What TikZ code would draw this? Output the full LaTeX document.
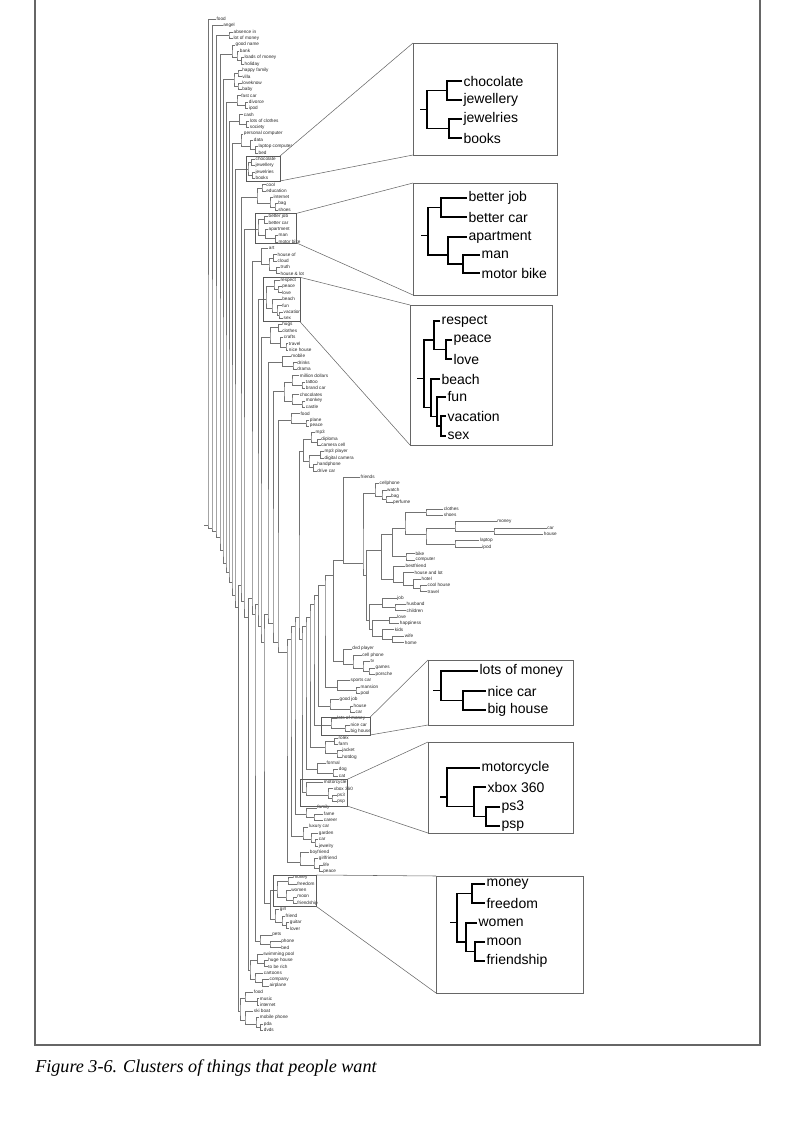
\documentclass[tikz,border=0pt]{standalone}
\usepackage{fontspec}
\newfontfamily\sansfam{Liberation Sans}
\newfontfamily\capfam{Liberation Serif}
\newcommand\tinyfnt{\sansfam\fontsize{3.5}{4}\selectfont}
\newcommand\insetfnt{\sansfam\fontsize{10.5}{12}\selectfont}
\newcommand\capfnt{\capfam\itshape\fontsize{13.6}{15}\selectfont}
\newcommand\Lf[4]{%
  \node[lbl] (L#1) at (#2,#3) {#4};%
  \coordinate (#1) at (#2,#3);%
  \expandafter\xdef\csname dT#1\endcsname{#3}%
  \expandafter\xdef\csname dB#1\endcsname{#3}%
}
\newcommand\Li[4]{%
  \pgfmathsetmacro\xxY{19.3+6.358*#3}%
  \Lf{#1}{#2}{\xxY}{#4}%
}
\newcommand\Cl[4]{%
  \edef\xxA{\csname dT#3\endcsname}%
  \edef\xxB{\csname dB#4\endcsname}%
  \pgfmathsetmacro\xxM{(\xxA+\xxB)/2}%
  \expandafter\xdef\csname dT#1\endcsname{\xxA}%
  \expandafter\xdef\csname dB#1\endcsname{\xxB}%
  \coordinate (#1) at (#2,\xxM);%
  \draw[dl] (#3) -| (#1) |- (#4);%
}
\tikzset{
  lbl/.style={anchor=west, inner sep=0.3pt, font=\tinyfnt, text=black!85},
  dl/.style={draw=black!55, line width=0.3pt},
  ibl/.style={anchor=west, inner sep=1pt, font=\insetfnt, text=black},
  idl/.style={draw=black, line width=0.9pt},
  hbox/.style={draw=black!65, line width=0.35pt},
  zline/.style={draw=black!60, line width=0.4pt},
  ibox/.style={draw=black!60, line width=0.6pt},
  frame/.style={draw=black!60, line width=0.8pt},
}
\begin{document}
\begin{tikzpicture}[x=0.75pt, y=-0.75pt]
\useasboundingbox (0,0) rectangle (794,1123);
% frame and caption
\draw[frame] (35,-2) -- (35,1045) -- (760,1045) -- (760,-2);
\node[anchor=base west, inner sep=0pt, font=\capfnt] (cap) at (35,1072) {Figure 3-6. Clusters of things that people want};

% ---------- leaves ----------
\Li{t0}{216}{0}{food}
\Li{t1}{222.7}{1}{angel}
\Li{t2}{233}{2}{absence in}
\Li{t3}{233}{3}{lot of money}
\Li{t4}{235}{4}{good name}
\Li{t5}{239.3}{5}{bank}
\Li{t6}{244}{6}{loads of money}
\Li{t7}{244}{7}{holiday}
\Li{t8}{241.7}{8}{happy family}
\Li{t9}{241.7}{9}{villa}
\Li{t10}{241.7}{10}{loveknow}
\Li{t11}{241.7}{11}{baby}
\Li{t12}{240.7}{12}{fast car}
\Li{t13}{248.3}{13}{divorce}
\Li{t14}{248.3}{14}{ipod}
\Li{t15}{243.3}{15}{cash}
\Li{t16}{249.3}{16}{lots of clothes}
\Li{t17}{249.3}{17}{society}
\Li{t18}{243.3}{18}{personal computer}
\Li{t19}{253.3}{19}{data}
\Li{t20}{258}{20}{laptop computer}
\Li{t21}{258}{21}{bed}
\Li{t22}{255}{22}{chocolate}
\Li{t23}{255}{23}{jewellery}
\Li{t24}{255}{24}{jewelries}
\Li{t25}{255}{25}{books}
\Li{t26}{265.7}{26}{cool}
\Li{t27}{265.7}{27}{education}
\Li{t28}{273}{28}{internet}
\Li{t29}{277.7}{29}{bag}
\Li{t30}{277.7}{30}{shoes}
\Li{t31}{268}{31}{better job}
\Li{t32}{268}{32}{better car}
\Li{t33}{268}{33}{apartment}
\Li{t34}{278}{34}{man}
\Li{t35}{278}{35}{motor bike}
\Li{t36}{268.3}{36}{art}
\Li{t37}{277}{37}{house of}
\Li{t38}{277}{38}{cloud}
\Li{t39}{280}{39}{truth}
\Li{t40}{280}{40}{house \& lot}
\Li{t41}{280}{41}{respect}
\Li{t42}{281.7}{42}{peace}
\Li{t43}{281.7}{43}{love}
\Li{t44}{281.7}{44}{beach}
\Li{t45}{281.7}{45}{fun}
\Li{t46}{283}{46}{vacation}
\Li{t47}{283}{47}{sex}
\Li{t48}{281.7}{48}{hugs}
\Li{t49}{281.7}{49}{clothes}
\Li{t50}{283.3}{50}{crafts}
\Li{t51}{288.3}{51}{travel}
\Li{t52}{288.3}{52}{nice house}
\Li{t53}{290.7}{53}{mobile}
\Li{t54}{296.7}{54}{drinks}
\Li{t55}{296.7}{55}{drama}
\Li{t56}{299.3}{56}{million dollars}
\Li{t57}{305.3}{57}{tattoo}
\Li{t58}{305.3}{58}{brand car}
\Li{t59}{299.3}{59}{chocolates}
\Li{t60}{305.3}{60}{monkey}
\Li{t61}{305.3}{61}{castle}
\Li{t62}{300}{62}{food}
\Li{t63}{309.3}{63}{plane}
\Li{t64}{309.3}{64}{peace}
\Li{t65}{315}{65}{mp3}
\Li{t66}{320.7}{66}{diploma}
\Li{t67}{320.7}{67}{camera cell}
\Li{t68}{324}{68}{mp3 player}
\Li{t69}{324}{69}{digital camera}
\Li{t70}{316.7}{70}{handphone}
\Li{t71}{316.7}{71}{drive car}
\Li{t72}{360}{72}{friends}
\Li{t73}{379}{73}{cellphone}
\Li{t74}{386.5}{74}{watch}
\Li{t75}{390.5}{75}{bag}
\Li{t76}{392.5}{76}{perfume}
\Li{t77}{443.3}{77}{clothes}
\Li{t78}{443.3}{78}{shoes}
\Li{t79}{496.7}{79}{money}
\Li{t80}{546.7}{80}{car}
\Li{t81}{543.3}{81}{house}
\Li{t82}{479.3}{82}{laptop}
\Li{t83}{481.7}{83}{ipod}
\Li{t84}{415}{84}{bike}
\Li{t85}{415}{85}{computer}
\Li{t86}{405}{86}{bestfriend}
\Li{t87}{414}{87}{house and lot}
\Li{t88}{421}{88}{hotel}
\Li{t89}{427}{89}{cool house}
\Li{t90}{427}{90}{travel}
\Li{t91}{396.7}{91}{job}
\Li{t92}{406}{92}{husband}
\Li{t93}{406}{93}{children}
\Li{t94}{396.7}{94}{love}
\Li{t95}{399.3}{95}{happiness}
\Li{t96}{394.3}{96}{kids}
\Li{t97}{404.3}{97}{wife}
\Li{t98}{404.3}{98}{home}
\Li{t99}{351.7}{99}{dvd player}
\Li{t100}{361.7}{100}{cell phone}
\Li{t101}{370}{101}{tv}
\Li{t102}{375}{102}{games}
\Li{t103}{375}{103}{porsche}
\Li{t104}{350}{104}{sports car}
\Li{t105}{360}{105}{mansion}
\Li{t106}{360}{106}{pool}
\Li{t107}{339}{107}{good job}
\Li{t108}{353}{108}{house}
\Li{t109}{355}{109}{car}
\Li{t110}{336.7}{110}{lots of money}
\Li{t111}{350}{111}{nice car}
\Li{t112}{350}{112}{big house}
\Li{t113}{338}{113}{rolex}
\Li{t114}{338}{114}{farm}
\Li{t115}{341.7}{115}{jacket}
\Li{t116}{341.7}{116}{hotdog}
\Li{t117}{326}{117}{formal}
\Li{t118}{338.3}{118}{dog}
\Li{t119}{338.3}{119}{cat}
\Li{t120}{323.3}{120}{motorcycle}
\Li{t121}{333.3}{121}{xbox 360}
\Li{t122}{336.7}{122}{ps3}
\Li{t123}{336.7}{123}{psp}
\Li{t124}{316.7}{124}{family}
\Li{t125}{323.3}{125}{fame}
\Li{t126}{323.3}{126}{career}
\Li{t127}{308.3}{127}{luxury car}
\Li{t128}{318.3}{128}{garden}
\Li{t129}{318.3}{129}{car}
\Li{t130}{318.3}{130}{jewelry}
\Li{t131}{309.3}{131}{boyfriend}
\Li{t132}{318.3}{132}{girlfriend}
\Li{t133}{322.7}{133}{life}
\Li{t134}{322.7}{134}{peace}
\Li{t135}{292.7}{135}{money}
\Li{t136}{296.7}{136}{freedom}
\Li{t137}{290.7}{137}{women}
\Li{t138}{296.7}{138}{moon}
\Li{t139}{296.7}{139}{friendship}
\Li{t140}{279.3}{140}{girl}
\Li{t141}{285}{141}{friend}
\Li{t142}{289.3}{142}{guitar}
\Li{t143}{289.3}{143}{lover}
\Li{t144}{271.7}{144}{pets}
\Li{t145}{280.7}{145}{phone}
\Li{t146}{280.7}{146}{bed}
\Li{t147}{262.7}{147}{swimming pool}
\Li{t148}{267.7}{148}{huge house}
\Li{t149}{267.7}{149}{to be rich}
\Li{t150}{263.3}{150}{cartoons}
\Li{t151}{269}{151}{company}
\Li{t152}{269}{152}{airplane}
\Li{t153}{253.3}{153}{food}
\Li{t154}{259.3}{154}{music}
\Li{t155}{259.3}{155}{internet}
\Li{t156}{253.3}{156}{ski boat}
\Li{t157}{259.3}{157}{mobile phone}
\Li{t158}{263.3}{158}{pda}
\Li{t159}{263.3}{159}{dvds}

% ---------- top groups ----------
\Cl{g3}{229}{t2}{t3}
\Cl{g4a}{241.5}{t6}{t7}\Cl{g4b}{237}{t5}{g4a}\Cl{g4}{232}{t4}{g4b}
\Cl{g5a}{238}{t8}{t9}\Cl{g5b}{238}{t10}{t11}\Cl{g5}{234}{g5a}{g5b}
\Cl{g6a}{245.5}{t13}{t14}\Cl{g6}{237}{t12}{g6a}
\Cl{g7a}{246.5}{t16}{t17}\Cl{g7}{239.5}{t15}{g7a}
\Cl{g8a}{255.5}{t20}{t21}\Cl{g8b}{250.5}{t19}{g8a}\Cl{g8}{241}{t18}{g8b}
\Cl{g9a}{251.5}{t22}{t23}\Cl{g9b}{252.5}{t24}{t25}\Cl{g9}{248}{g9a}{g9b}
\Cl{g10a}{262}{t26}{t27}\Cl{g10b}{275}{t29}{t30}\Cl{g10c}{270}{t28}{g10b}\Cl{g10}{257}{g10a}{g10c}
\Cl{g11a}{264.5}{t31}{t32}\Cl{g11b}{275.5}{t34}{t35}\Cl{g11c}{265.5}{t33}{g11b}\Cl{g11}{258}{g11a}{g11c}
\Cl{g12a}{273.5}{t37}{t38}\Cl{g12b}{276.5}{t39}{t40}\Cl{g12c}{269}{g12a}{g12b}\Cl{g12}{260.7}{t36}{g12c}
\Cl{g13a}{278}{t42}{t43}\Cl{g13b}{274}{t41}{g13a}\Cl{g13c}{279}{t46}{t47}\Cl{g13d}{277}{t45}{g13c}\Cl{g13e}{272}{t44}{g13d}\Cl{g13}{266}{g13b}{g13e}
\Cl{g14a}{278.3}{t48}{t49}\Cl{g14b}{286}{t51}{t52}\Cl{g14c}{280.5}{t50}{g14b}\Cl{g14}{270}{g14a}{g14c}
\Cl{g15a}{293}{t54}{t55}\Cl{g15}{281.7}{t53}{g15a}
\Cl{g16a}{302}{t57}{t58}\Cl{g16b}{292}{t56}{g16a}\Cl{g16c}{302}{t60}{t61}\Cl{g16d}{292}{t59}{g16c}\Cl{g16}{284}{g16b}{g16d}
\Cl{g17a}{306}{t63}{t64}\Cl{g17}{291}{t62}{g17a}
\Cl{g18a}{317.5}{t66}{t67}\Cl{g18b}{311}{t65}{g18a}\Cl{g18c}{320.5}{t68}{t69}\Cl{g18d}{313.5}{t70}{t71}\Cl{g18e}{309}{g18c}{g18d}\Cl{g18}{303.5}{g18b}{g18e}

% ---------- core ----------
\Cl{c1}{386}{t75}{t76}\Cl{c2}{382}{t74}{c1}\Cl{cell}{375}{t73}{c2}
\Cl{ch}{494}{t80}{t81}\Cl{a2}{455}{t79}{ch}\Cl{a3}{455}{t82}{t83}\Cl{a4}{426}{a2}{a3}
\Cl{a1}{426}{t77}{t78}\Cl{a5}{405}{a1}{a4}\Cl{a6}{406}{t84}{t85}\Cl{a7}{391.7}{a5}{a6}
\Cl{b1a}{420}{t89}{t90}\Cl{b1b}{413.3}{t88}{b1a}\Cl{b1c}{403.3}{t87}{b1b}\Cl{b1}{393.3}{t86}{b1c}
\Cl{cc1}{380.7}{a7}{b1}
\Cl{j1}{395}{t92}{t93}\Cl{jj}{381.7}{t91}{j1}
\Cl{k1}{389.3}{t94}{t95}\Cl{k2}{391.7}{t97}{t98}\Cl{k3}{381.7}{t96}{k2}\Cl{kk}{371.7}{k1}{k3}
\Cl{cc2}{369.5}{jj}{kk}
\Cl{big}{366.5}{cc1}{cc2}
\Cl{f1}{363}{cell}{big}
\Cl{ff}{343.3}{t72}{f1}
\Cl{d1}{369}{t102}{t103}\Cl{d2}{363}{t101}{d1}\Cl{d3}{353}{t100}{d2}\Cl{dvd}{343.3}{t99}{d3}
\Cl{gg1}{333.3}{ff}{dvd}
\Cl{s1}{356}{t105}{t106}\Cl{sc}{336.7}{t104}{s1}
\Cl{gg2}{325}{gg1}{sc}

% ---------- bottom groups ----------
\Cl{gj1}{350}{t108}{t109}\Cl{gj}{330}{t107}{gj1}
\Cl{lm1}{345}{t111}{t112}\Cl{lm}{331}{t110}{lm1}
\Cl{rx1}{334.5}{t113}{t114}\Cl{rx2}{337}{t115}{t116}\Cl{rx}{325}{rx1}{rx2}
\Cl{fd1}{333}{t118}{t119}\Cl{fd}{316.7}{t117}{fd1}
\Cl{mc1}{332}{t122}{t123}\Cl{mc2}{328}{t121}{mc1}\Cl{mc}{306}{t120}{mc2}
\Cl{fm1}{314}{t125}{t126}\Cl{fm}{306}{t124}{fm1}
\Cl{lc1}{315}{t129}{t130}\Cl{lc2}{311}{t128}{lc1}\Cl{lc}{303}{t127}{lc2}
\Cl{bf1}{319.5}{t133}{t134}\Cl{bf2}{314}{t132}{bf1}\Cl{bf}{300}{t131}{bf2}
\Cl{mn1}{288}{t135}{t136}\Cl{mn2}{293}{t138}{t139}\Cl{mn3}{286}{t137}{mn2}\Cl{mn}{277}{mn1}{mn3}
\Cl{gl1}{286.5}{t142}{t143}\Cl{gl2}{282}{t141}{gl1}\Cl{gl}{275}{t140}{gl2}
\Cl{mg}{270.5}{mn}{gl}
\Cl{pt1}{270}{t145}{t146}\Cl{pt}{260}{t144}{pt1}
\Cl{sp1}{264.5}{t148}{t149}\Cl{sp}{256.7}{t147}{sp1}
\Cl{ct1}{261.7}{t151}{t152}\Cl{ct}{255}{t150}{ct1}
\Cl{spct}{250}{sp}{ct}
\Cl{fo1}{256.7}{t154}{t155}\Cl{fo}{245}{t153}{fo1}
\Cl{sk1}{260.5}{t158}{t159}\Cl{sk2}{256}{t157}{sk1}\Cl{sk}{245}{t156}{sk2}
\Cl{fb}{240}{fo}{sk}

% ---------- backbone ----------
\Cl{n30}{318.3}{gg2}{gj}
\Cl{n29}{314}{n30}{lm}
\Cl{n28}{310}{n29}{rx}
\Cl{n27}{306}{n28}{fd}
\Cl{n26}{302}{n27}{mc}
\Cl{n25}{299}{g18}{n26}
\Cl{n24}{295}{n25}{fm}
\Cl{n23}{291}{n24}{lc}
\Cl{n22}{287}{n23}{bf}
\Cl{n21}{278}{g17}{n22}
\Cl{n20}{273}{g16}{n21}
\Cl{n19}{268}{g15}{n20}
\Cl{n18}{264}{n19}{mg}
\Cl{n17}{261}{g14}{n18}
\Cl{n16}{258}{g13}{n17}
\Cl{n15}{255}{n16}{pt}
\Cl{n14}{252}{g12}{n15}
\Cl{n13}{247.7}{n14}{spct}
\Cl{n12}{244}{g11}{n13}
\Cl{n11}{241}{g10}{n12}
\Cl{n10}{237.7}{n11}{fb}
\Cl{n9}{235}{g9}{n10}
\Cl{n8}{232}{g8}{n9}
\Cl{n7}{229}{g7}{n8}
\Cl{n6}{226}{g6}{n7}
\Cl{n5}{223}{g5}{n6}
\Cl{n4}{220}{g4}{n5}
\Cl{n3}{216}{g3}{n4}
\Cl{n2}{212}{t1}{n3}
\Cl{n1}{208}{t0}{n2}
\draw[dl] (n1) -- ++(-4,0);

% ---------- highlight boxes ----------
\draw[hbox] (246.5,156) rectangle (280,181);
\draw[hbox] (255,213.3) rectangle (296.7,243);
\draw[hbox] (263.3,277.3) rectangle (300,321.7);
\draw[hbox] (321.7,717.3) rectangle (370,735);
\draw[hbox] (300.7,779.3) rectangle (347.3,806);
\draw[hbox] (273.3,875) rectangle (316.7,906.7);

% ---------- zoom lines ----------
\draw[zline] (280,156) -- (413,43);
\draw[zline] (280,181) -- (413,155);
\draw[zline] (296.7,213.3) -- (413,183);
\draw[zline] (296.7,243) -- (413,295);
\draw[zline] (300,277.3) -- (410,305);
\draw[zline] (300,321.7) -- (410,445);
\draw[zline] (370,717.3) -- (428,660);
\draw[zline] (370,735) -- (428,725);
\draw[zline] (347.3,779.3) -- (428,742);
\draw[zline] (347.3,806) -- (428,833);
\draw[zline] (316.7,875) -- (436,876);
\draw[zline] (316.7,906.7) -- (436,993);

% ---------- insets ----------
\draw[ibox] (413,43) rectangle (557,155);
\draw[ibox] (413,183) rectangle (557,295);
\draw[ibox] (410,305) rectangle (552,445);
\draw[ibox] (428,660) rectangle (573,725);
\draw[ibox] (428,742) rectangle (573,833);
\draw[ibox] (436,876) rectangle (583,993);
\begin{scope}[lbl/.style={ibl}, dl/.style={idl}]
\Lf{ia0}{462}{81}{chocolate}\Lf{ia1}{462}{100}{jewellery}\Lf{ia2}{462}{119}{jewelries}\Lf{ia3}{462}{138}{books}
\Cl{ia4}{447}{ia0}{ia1}\Cl{ia5}{449}{ia2}{ia3}\Cl{ia6}{427}{ia4}{ia5}
\draw[idl] (ia6) -- ++(-7,0);
\Lf{ib0}{467}{198}{better job}\Lf{ib1}{467}{217}{better car}\Lf{ib2}{467}{237}{apartment}\Lf{ib3}{480}{255}{man}\Lf{ib4}{480}{273}{motor bike}
\Cl{ib5}{441}{ib0}{ib1}\Cl{ib6}{463}{ib3}{ib4}\Cl{ib7}{448}{ib2}{ib6}\Cl{ib8}{428}{ib5}{ib7}
\draw[idl] (ib8) -- ++(-7,0);
\Lf{ic0}{440}{321}{respect}\Lf{ic1}{452}{340}{peace}\Lf{ic2}{452}{359}{love}\Lf{ic3}{440}{379}{beach}\Lf{ic4}{446}{397}{fun}\Lf{ic5}{446}{416}{vacation}\Lf{ic6}{446}{436}{sex}
\Cl{ic7}{446}{ic1}{ic2}\Cl{ic8}{434}{ic0}{ic7}\Cl{ic9}{441}{ic5}{ic6}\Cl{ic10}{437}{ic4}{ic9}\Cl{ic11}{431}{ic3}{ic10}\Cl{ic12}{424}{ic8}{ic11}
\draw[idl] (ic12) -- ++(-7,0);
\Lf{id0}{478}{671}{lots of money}\Lf{id1}{486}{691}{nice car}\Lf{id2}{486}{710}{big house}
\Cl{id3}{463}{id1}{id2}\Cl{id4}{441}{id0}{id3}
\draw[idl] (id4) -- ++(-8,0);
\Lf{ie0}{480}{768}{motorcycle}\Lf{ie1}{486}{787}{xbox 360}\Lf{ie2}{500}{807}{ps3}\Lf{ie3}{500}{826}{psp}
\Cl{ie4}{486}{ie2}{ie3}\Cl{ie5}{474}{ie1}{ie4}\Cl{ie6}{447}{ie0}{ie5}
\draw[idl] (ie6) -- ++(-7,0);
\Lf{if0}{485}{884}{money}\Lf{if1}{485}{903}{freedom}\Lf{if2}{477}{923}{women}\Lf{if3}{485}{942}{moon}\Lf{if4}{485}{961}{friendship}
\Cl{if5}{472}{if0}{if1}\Cl{if6}{475}{if3}{if4}\Cl{if7}{466}{if2}{if6}\Cl{if8}{457}{if5}{if7}
\draw[idl] (if8) -- ++(-7,0);
\end{scope}
\end{tikzpicture}
\end{document}
